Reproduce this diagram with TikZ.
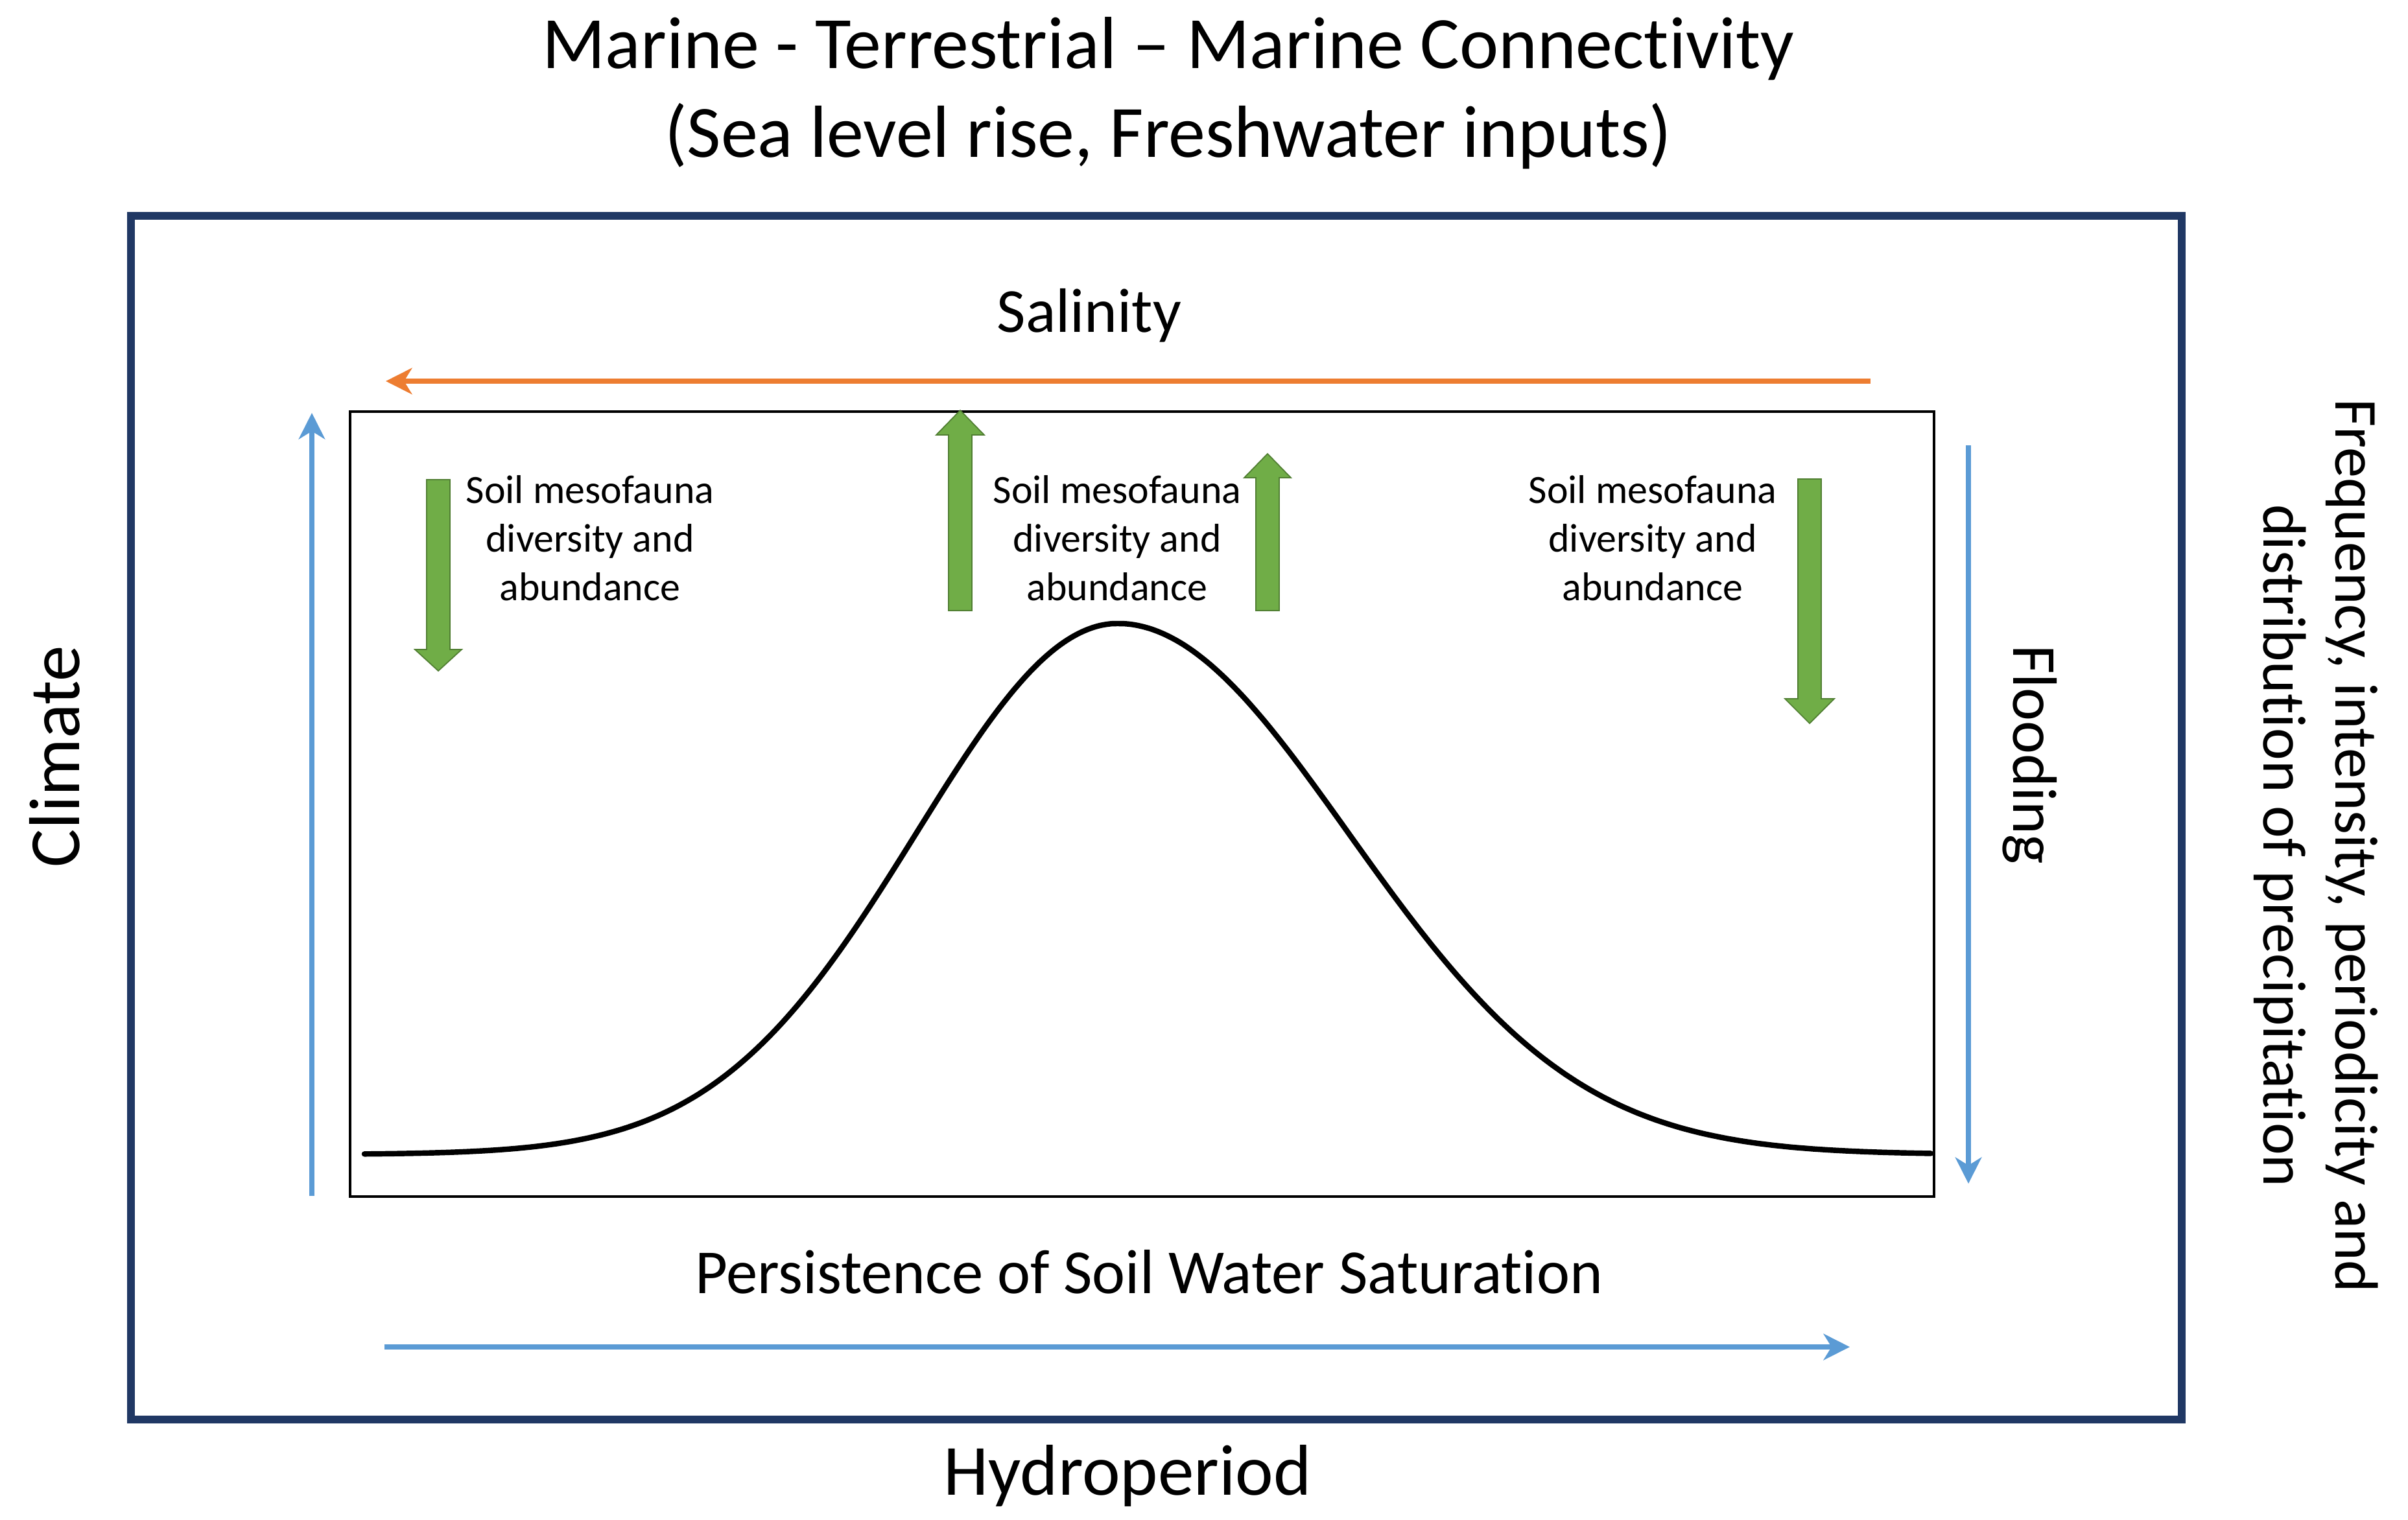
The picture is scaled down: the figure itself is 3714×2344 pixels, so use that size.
\documentclass[tikz,border=0pt]{standalone}
\usepackage{fontspec}
\setmainfont{Carlito}[Ligatures={NoCommon,NoRare,NoContextual}]
\usetikzlibrary{arrows.meta}
\definecolor{frameblue}{HTML}{203864}
\definecolor{lineblue}{HTML}{5B9BD5}
\definecolor{salorange}{HTML}{ED7D31}
\definecolor{arrgreen}{HTML}{70AD47}
\definecolor{arrgreenedge}{HTML}{507E32}
\tikzset{
  titletext/.style={font=\fontsize{32.4}{39}\selectfont, anchor=base, inner sep=0pt},
  axistext/.style={font=\fontsize{27.5}{33}\selectfont, anchor=base, inner sep=0pt},
  bigaxis/.style={font=\fontsize{31.6}{38}\selectfont, anchor=base, inner sep=0pt},
  sidetext/.style={font=\fontsize{26.8}{31.5}\selectfont, align=center, inner sep=0pt},
  soiltext/.style={font=\fontsize{17.6}{21.3}\selectfont, align=center, inner sep=0pt},
  thinarrow/.style={line width=2.3pt, -{Stealth[length=11.5pt, width=11.5pt, inset=3.5pt]}},
  blockarrow/.style={fill=arrgreen, draw=arrgreenedge, line width=0.5pt},
  outerframe/.style={draw=frameblue, line width=3.4pt},
  innerframe/.style={draw=black, line width=1.1pt},
  bellcurve/.style={draw=black, line width=2.4pt, line cap=round, line join=round}
}
\begin{document}
\begin{tikzpicture}[x=0.01cm, y=-0.01cm]
\useasboundingbox (0,0) rectangle (3714,2344);
\fill[white] (0,0) rectangle (3714,2344);

% titles
\node[titletext] (t1) at (1802,105) {Marine - Terrestrial – Marine Connectivity};
\node[titletext] (t2) at (1802,242) {(Sea level rise, Freshwater inputs)};

% frames
\draw[outerframe] (202,333) rectangle (3365,2190);
\draw[innerframe] (540,635) rectangle (2983,1846);

% axis labels
\node[axistext] (sal) at (1680,512) {Salinity};
\node[axistext] (pers) at (1772,1995) {Persistence of Soil Water Saturation};
\node[bigaxis] (hyd) at (1739,2306) {Hydroperiod};
\node[bigaxis, rotate=90] (clim) at (122,1167) {Climate};
\node[axistext, rotate=-90] (flood) at (3105,1164) {Flooding};
\node[sidetext, rotate=-90] (prec) at (3572,1305) {Frequency, intensity, periodicity and\\distribution of precipitation};

% thin arrows
\coordinate (salS) at (2885,588);
\coordinate (salE) at (595,588);
\coordinate (climS) at (481,1845);
\coordinate (climE) at (481,637);
\coordinate (floS) at (3036,687);
\coordinate (floE) at (3036,1826);
\coordinate (hydS) at (593,2078);
\coordinate (hydE) at (2853,2078);
\draw[thinarrow, salorange] (salS) -- (salE);
\draw[thinarrow, lineblue] (climS) -- (climE);
\draw[thinarrow, lineblue] (floS) -- (floE);
\draw[thinarrow, lineblue] (hydS) -- (hydE);

% soil texts
\node[soiltext] (s1) at (910,830) {Soil mesofauna\\diversity and\\abundance};
\node[soiltext] (s2) at (1723,830) {Soil mesofauna\\diversity and\\abundance};
\node[soiltext] (s3) at (2549,830) {Soil mesofauna\\diversity and\\abundance};

% green block arrows
\draw[blockarrow] (658,740) -- (694,740) -- (694,1002) -- (712,1002) -- (676,1035) -- (640,1002) -- (658,1002) -- cycle;
\draw[blockarrow] (1463,942) -- (1499,942) -- (1499,671) -- (1518,671) -- (1481,633) -- (1444,671) -- (1463,671) -- cycle;
\draw[blockarrow] (1937,942) -- (1973,942) -- (1973,737) -- (1991,737) -- (1955,700) -- (1919,737) -- (1937,737) -- cycle;
\draw[blockarrow] (2773,739) -- (2809,739) -- (2809,1078) -- (2829,1078) -- (2791,1116) -- (2753,1078) -- (2773,1078) -- cycle;

% bell curve
\draw[bellcurve] plot[domain=562:2978, samples=240, smooth]
  (\x, {1781 - 819*exp(-0.5*((\x-1724)/(\x<1724?310:355))*((\x-1724)/(\x<1724?310:355)))});
\end{tikzpicture}
\end{document}
